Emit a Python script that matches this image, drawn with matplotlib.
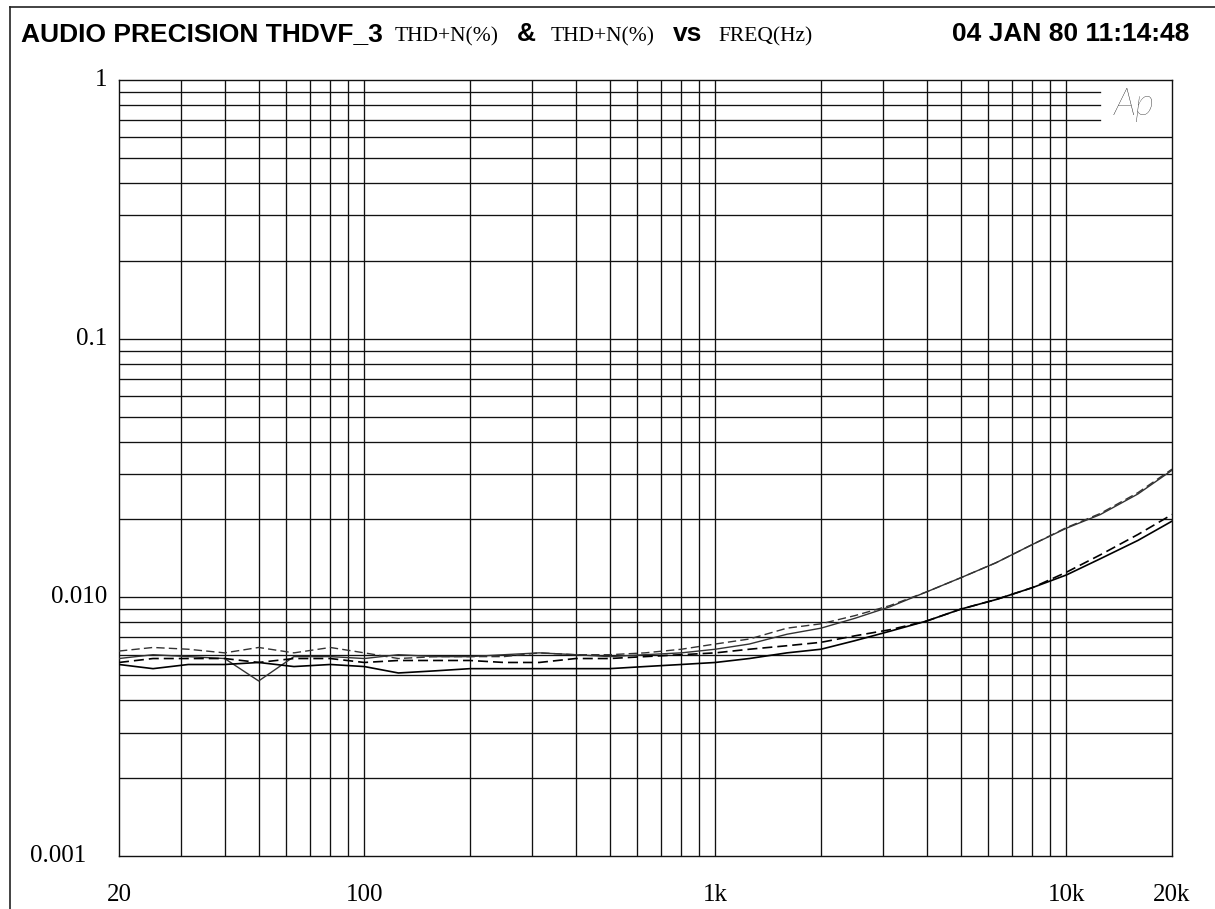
import matplotlib
matplotlib.use('Agg')
import matplotlib.pyplot as plt
from matplotlib.lines import Line2D
from matplotlib.ticker import NullLocator

# 1/3 octave sweep, THD+N in %
freq = [20, 25, 31.5, 40, 50, 63, 80, 100, 125, 160, 200, 250, 315, 400, 500, 630,
        800, 1000, 1250, 1600, 2000, 2500, 3150, 4000, 5000, 6300, 8000, 10000,
        12500, 16000, 20000]

thd_a_dash = [0.0062, 0.0064, 0.0063, 0.0061, 0.0064, 0.0061, 0.0064, 0.0061, 0.0058,
              0.0059, 0.0059, 0.0059, 0.0061, 0.0060, 0.0060, 0.0061, 0.0063, 0.0066,
              0.0069, 0.0076, 0.0079, 0.0085, 0.0093, 0.0105, 0.0119, 0.0136, 0.0160,
              0.0186, 0.0211, 0.0254, 0.0313]
thd_a_solid = [0.0058, 0.0060, 0.0059, 0.0058, 0.00475, 0.0059, 0.0059, 0.0058, 0.0060,
               0.0059, 0.0059, 0.0060, 0.0061, 0.0060, 0.0059, 0.0060, 0.0061, 0.0063,
               0.0066, 0.0072, 0.0076, 0.0083, 0.0092, 0.0105, 0.0119, 0.0136, 0.0160,
               0.0185, 0.0209, 0.0251, 0.0310]
thd_b_dash = [0.0056, 0.0058, 0.0058, 0.0058, 0.0056, 0.0058, 0.0058, 0.0056, 0.0057,
              0.0057, 0.0057, 0.0056, 0.0056, 0.0058, 0.0058, 0.0059, 0.0060, 0.0061,
              0.0063, 0.0065, 0.0067, 0.0071, 0.0075, 0.0081, 0.0090, 0.0098, 0.0109,
              0.0125, 0.0146, 0.0175, 0.0209]
thd_b_solid = [0.0055, 0.0053, 0.0055, 0.0055, 0.0056, 0.0054, 0.0055, 0.0054, 0.0051,
               0.0052, 0.0053, 0.0053, 0.0053, 0.0053, 0.0053, 0.0054, 0.0055, 0.0056,
               0.0058, 0.0061, 0.0063, 0.0068, 0.0074, 0.0081, 0.0090, 0.0098, 0.0109,
               0.0122, 0.0141, 0.0166, 0.0197]

x_ticks = [20, 100, 1000, 10000, 20000]
x_labels = ['20', '100', '1k', '10k', '20k']
y_ticks = [1, 0.1, 0.01, 0.001]
y_labels = ['1', '0.1', '0.010', '0.001']

W, H = 1215, 909
plt.rcParams['font.family'] = ['Liberation Serif', 'DejaVu Serif']

fig = plt.figure(figsize=(W / 100, H / 100), dpi=100)
ax = fig.add_axes([119 / W, 53 / H, 1053 / W, 776 / H])
ax.set_xscale('log')
ax.set_yscale('log')
ax.set_xlim(20, 20000)
ax.set_ylim(0.001, 1)

# grid, the top three lines stop short of the Ap logo
logo_cut = 12500
for dec in [10, 100, 1000, 10000]:
    for m in range(1, 10):
        f = m * dec
        if 20 < f < 20000:
            ax.axvline(f, color='#111111', lw=0.95, zorder=1)
for dec in [0.001, 0.01, 0.1]:
    for m in range(1, 10):
        v = m * dec
        if 0.001 < v < 1:
            if v > 0.65:
                ax.plot([20, logo_cut], [v, v], color='#111111', lw=0.95, zorder=1)
            else:
                ax.axhline(v, color='#111111', lw=0.95, zorder=1)

ax.plot(freq, thd_a_dash, color='#333333', lw=1.0, dashes=(6, 3), zorder=3)
ax.plot(freq, thd_a_solid, color='#333333', lw=1.0, zorder=3)
ax.plot(freq, thd_b_dash, color='black', lw=1.2, dashes=(6, 3), zorder=3)
ax.plot(freq, thd_b_solid, color='black', lw=1.2, zorder=3)

for s in ax.spines.values():
    s.set_linewidth(1.0)
    s.set_color('#111111')

ax.set_xticks(x_ticks)
ax.set_xticklabels(x_labels)
ax.xaxis.set_minor_locator(NullLocator())
ax.set_yticks([])
ax.yaxis.set_minor_locator(NullLocator())
ax.tick_params(axis='x', length=0, pad=20.5, labelsize=18)

for v, lab in zip(y_ticks, y_labels):
    xoff = -12 if lab != '0.001' else -33
    ax.annotate(lab, xy=(0, v), xycoords=ax.get_yaxis_transform(),
                xytext=(xoff * 0.72, 0), textcoords='offset points',
                ha='right', va='center', fontsize=18)

fig.text(1114 / W, 1 - 115 / H, 'Ap', family=['Lato', 'DejaVu Sans'],
         fontweight='light', fontstyle='italic', fontsize=27, color='#111111')

# header
base = 1 - 41 / H
sans = ['Liberation Sans', 'DejaVu Sans']
fig.text(21 / W, base, 'AUDIO PRECISION THDVF_3', family=sans, fontweight='bold',
         fontsize=19, va='baseline')
fig.text(395 / W, base, 'THD+N(%)', fontsize=15.5, va='baseline')
fig.text(517 / W, base, '&', family=sans, fontweight='bold', fontsize=19, va='baseline')
fig.text(551 / W, base, 'THD+N(%)', fontsize=15.5, va='baseline')
fig.text(673 / W, base, 'vs', family=sans, fontweight='bold', fontsize=19, va='baseline')
fig.text(718 / W, base, 'FREQ(Hz)', fontsize=15.5, va='baseline')
fig.text(1189 / W, base, '04 JAN 80 11:14:48', family=sans, fontweight='bold',
         fontsize=19, va='baseline', ha='right')

# page frame (top and left edges only)
fig.add_artist(Line2D([10 / W, 1], [1 - 7 / H, 1 - 7 / H], transform=fig.transFigure,
                      color='#222222', lw=1.2))
fig.add_artist(Line2D([10 / W, 10 / W], [0, 1 - 7 / H], transform=fig.transFigure,
                      color='#222222', lw=1.2))

fig.savefig('out.png', dpi=100, facecolor='white')
